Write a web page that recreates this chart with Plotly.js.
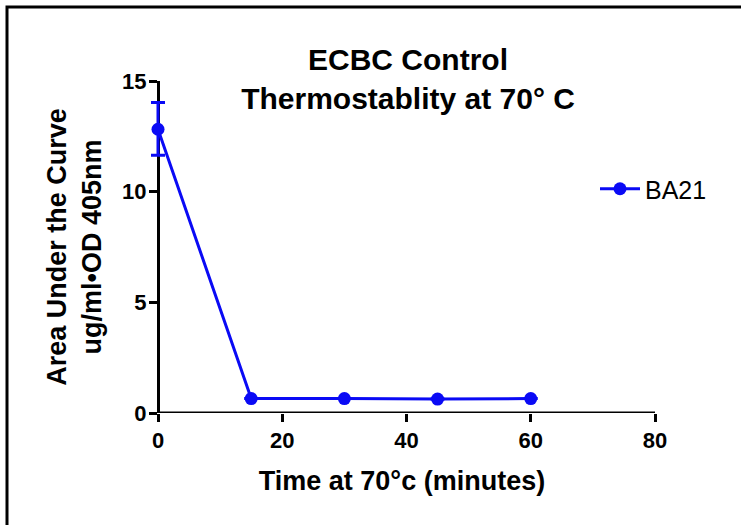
<!DOCTYPE html>
<html>
<head>
<meta charset="utf-8">
<script src="https://cdn.plot.ly/plotly-3.0.1.min.js"></script>
<style>
  html, body { margin: 0; padding: 0; background: #ffffff; }
  #chart { width: 741px; height: 525px; }
</style>
</head>
<body>
<div id="chart"></div>
<script>
// ---- data ----
var timeMinutes = [0, 15, 30, 45, 60];
var ba21Values  = [12.82, 0.65, 0.65, 0.63, 0.65];
var ba21ErrPlus  = [1.21, 0, 0, 0, 0];
var ba21ErrMinus = [1.18, 0, 0, 0, 0];
var seriesName = "BA21";
var xTicks = [0, 20, 40, 60, 80];
var yTicks = [0, 5, 10, 15];

var blue = "#0a0af5";
var fontFamily = "Liberation Sans, Arial, Helvetica, sans-serif";

// geometry: x=0 sits at pixel 158, x=80 at pixel 655; the plot area is
// widened a little to the left so the error-bar cap at x=0 is not clipped
var marginL = 149, marginR = 86, marginT = 81, marginB = 112;
var plotW = 741 - marginL - marginR;
var xPad = (158 - marginL) * 80 / (plotW - (158 - marginL)); // data units left of 0
var xMin = -xPad, xMax = 80;
var yAxisPos = xPad / (xMax - xMin);
var plotH = 525 - marginT - marginB;
function px2paperX(p) { return (p - marginL) / plotW; }
function px2paperY(p) { return (525 - marginB - p) / plotH; }

var trace = {
  x: timeMinutes,
  y: ba21Values,
  name: seriesName,
  type: "scatter",
  mode: "lines+markers",
  line: { color: blue, width: 3 },
  marker: { color: blue, size: 13, symbol: "circle" },
  error_y: {
    type: "data",
    symmetric: false,
    array: ba21ErrPlus,
    arrayminus: ba21ErrMinus,
    color: blue,
    thickness: 3,
    width: 7
  },
  cliponaxis: false
};

var layout = {
  width: 741,
  height: 525,
  margin: { l: marginL, r: marginR, t: marginT, b: marginB },
  paper_bgcolor: "#ffffff",
  plot_bgcolor: "#ffffff",
  font: { family: fontFamily, color: "#000000" },
  showlegend: true,
  title: {
    text: "ECBC Control<br>Thermostablity at 70° C",
    font: { family: fontFamily, size: 30, weight: 700, color: "#000000" },
    x: 408 / 741, xref: "container", xanchor: "center",
    y: 1 - 70 / 525, yref: "container", yanchor: "top"
  },
  xaxis: {
    range: [xMin, xMax],
    tickvals: xTicks,
    ticktext: xTicks.map(String),
    showgrid: false,
    zeroline: false,
    showline: false,
    ticks: "outside",
    ticklen: 8,
    tickwidth: 3,
    tickcolor: "#000000",
    tickfont: { family: fontFamily, size: 22, weight: 700, color: "#000000" },
    title: {
      text: "Time at 70°c (minutes)",
      font: { family: fontFamily, size: 27, weight: 700, color: "#000000" },
      standoff: 18
    },
    automargin: false
  },
  yaxis: {
    range: [0, 15],
    anchor: "free",
    position: yAxisPos,
    tickvals: yTicks,
    ticktext: yTicks.map(String),
    showgrid: false,
    zeroline: false,
    showline: true,
    linecolor: "#000000",
    linewidth: 3,
    ticks: "outside",
    ticklen: 8,
    tickwidth: 3,
    tickcolor: "#000000",
    ticklabelstandoff: -2,
    layer: "below traces",
    tickfont: { family: fontFamily, size: 22, weight: 700, color: "#000000" },
    title: {
      text: "Area Under the Curve<br>ug/ml•OD 405nm",
      font: { family: fontFamily, size: 27, weight: 700, color: "#000000" },
      standoff: 11
    },
    automargin: false
  },
  legend: {
    x: px2paperX(595),
    y: px2paperY(189),
    xref: "paper", yref: "paper",
    xanchor: "left", yanchor: "middle",
    bgcolor: "rgba(0,0,0,0)",
    borderwidth: 0,
    itemwidth: 40,
    font: { family: fontFamily, size: 25, color: "#000000" }
  },
  shapes: [
    // x axis baseline from 0 to 80 (meets the y axis at the origin)
    {
      type: "line",
      xref: "x", yref: "y",
      x0: 0, x1: 80, y0: 0, y1: 0,
      line: { color: "#000000", width: 3 },
      layer: "below"
    },
    // outer frame of the figure (right and bottom edges lie outside the picture)
    {
      type: "rect",
      xref: "paper", yref: "paper",
      x0: px2paperX(7), x1: px2paperX(800),
      y0: px2paperY(560), y1: px2paperY(7),
      line: { color: "#000000", width: 3 },
      fillcolor: "rgba(0,0,0,0)",
      layer: "below"
    }
  ]
};

Plotly.newPlot("chart", [trace], layout, { staticPlot: true, displayModeBar: false });
</script>
</body>
</html>
